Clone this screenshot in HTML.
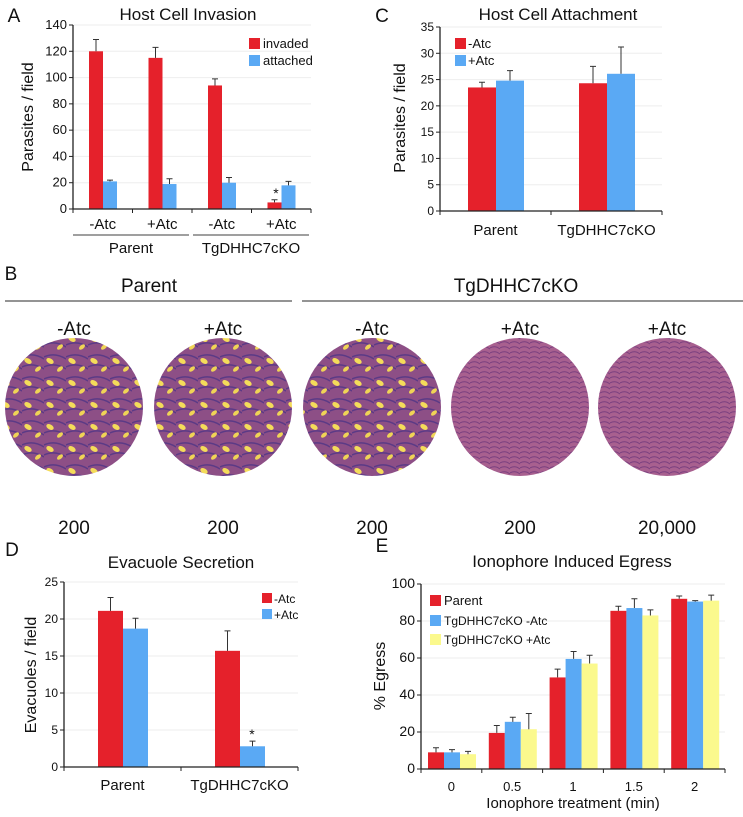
<!DOCTYPE html>
<html><head><meta charset="utf-8"><style>
body{margin:0;background:#fff;}
svg{display:block;font-family:"Liberation Sans",Arial,sans-serif;}
</style></head><body>
<svg id="fig" width="743" height="817" viewBox="0 0 743 817">
<defs>
<pattern id="cellsY" width="22" height="22" patternUnits="userSpaceOnUse">
<rect width="22" height="22" fill="#8d4f86"/>
<path d="M0 5 Q11 0 22 7 M0 15 Q11 10 22 17" stroke="#5b3a86" stroke-width="1.5" fill="none"/>
<ellipse cx="6" cy="9" rx="4" ry="2.5" fill="#f4dc5a" transform="rotate(30 6 9)"/>
<ellipse cx="16" cy="17" rx="3.5" ry="2" fill="#f0d456" transform="rotate(-40 16 17)"/>
</pattern>
<pattern id="cellsP" width="10" height="10" patternUnits="userSpaceOnUse">
<rect width="10" height="10" fill="#a8608f"/>
<path d="M0 3 Q5 0 10 4 M0 8 Q5 5 10 9" stroke="#7a3f7f" stroke-width="1" fill="none"/>
</pattern>
</defs>
<g id="layer"></g>
</svg>
<script>
// Panel A data
const aCats=['-Atc','+Atc','-Atc','+Atc'];
const aInvaded=[120,115,94,5];
const aInvadedErr=[129,123,99,7];
const aAttached=[21,19,20,18];
const aAttachedErr=[22,23,24,21];
const aTicks=[0,20,40,60,80,100,120,140];
// Panel C data
const cCats=['Parent','TgDHHC7cKO'];
const cMinus=[23.5,24.3];
const cMinusErr=[24.5,27.5];
const cPlus=[24.8,26.1];
const cPlusErr=[26.7,31.2];
const cTicks=[0,5,10,15,20,25,30,35];
// Panel D data
const dCats=['Parent','TgDHHC7cKO'];
const dMinus=[21.1,15.7];
const dMinusErr=[22.9,18.4];
const dPlus=[18.7,2.8];
const dPlusErr=[20.1,3.5];
const dTicks=[0,5,10,15,20,25];
// Panel E data
const eCats=['0','0.5','1','1.5','2'];
const eParent=[9,19.5,49.5,85.5,92];
const eParentErr=[11.5,23.5,54,88,93.5];
const eMinus=[9,25.5,59.5,87,90.5];
const eMinusErr=[10.5,28,63.5,92,91];
const ePlus=[8,21.5,57,83,91];
const ePlusErr=[9.5,30,61.5,86,94];
const eTicks=[0,20,40,60,80,100];

const NS='http://www.w3.org/2000/svg';
const L=document.getElementById('layer');
function el(t,a,txt){const e=document.createElementNS(NS,t);for(const k in a)e.setAttribute(k,a[k]);if(txt!==undefined)e.textContent=txt;L.appendChild(e);return e;}
function txt(x,y,s,size,anchor,name,rot){const a={x:x,y:y,'font-size':size,'text-anchor':anchor||'middle',fill:'#111'};if(rot)a.transform='rotate(-90 '+x+' '+y+')';const t=el('text',a,s);


return t;}
const RED='#e5212b',BLUE='#5aa9f4',YEL='#fbf98d';

function chart(o){
  const ys=v=>o.y0-(v/o.max)*(o.y0-o.yTop);
  o.ticks.forEach(t=>{
    if(t>0){const g=el('line',{x1:o.x0,x2:o.x1,y1:ys(t),y2:ys(t),stroke:'#eee','stroke-width':1});
    
    }
    const tk=el('line',{x1:o.x0-4,x2:o.x0,y1:ys(t),y2:ys(t),stroke:'#222'});
    
    
    txt(o.x0-6,ys(t)+4,String(t),o.tickSize,'end','y-tick-label');
  });
  const gw=(o.x1-o.x0)/o.cats.length;
  o.series.forEach((s,si)=>{
    o.cats.forEach((c,ci)=>{
      const x=o.x0+ci*gw+o.off+si*o.bw;
      const r=el('rect',{x:x,y:ys(s.v[ci]),width:o.bw,height:o.y0-ys(s.v[ci]),fill:s.c});
      
      
      const cx=x+o.bw/2,ye=ys(s.e[ci]);
      const e1=el('path',{d:'M'+cx+' '+ys(s.v[ci])+'V'+ye+'M'+(cx-3)+' '+ye+'H'+(cx+3),stroke:'#333','stroke-width':1,fill:'none'});
      
      
    });
  });
  const ax=el('path',{d:'M'+o.x0+' '+o.yTop+'V'+o.y0+'H'+o.x1,stroke:'#222','stroke-width':1.3,fill:'none'});
  
  
  for(let i=0;i<=o.cats.length;i++){const t=el('line',{x1:o.x0+i*gw,x2:o.x0+i*gw,y1:o.y0,y2:o.y0+4,stroke:'#222'});
    
    }
  o.cats.forEach((c,ci)=>txt(o.x0+(ci+0.5)*gw,o.catY,c,o.catSize,'middle','x-tick-label'));
  return ys;
}

// Panel A
txt(14,22,'A',19,'middle','panel-a-label');
txt(188,20,'Host Cell Invasion',17,'middle','panel-a-title');
const ysA=chart({x0:73,x1:311,y0:209,yTop:25,max:140,ticks:aTicks,cats:aCats,off:16,bw:14,tickSize:13,catSize:15,catY:229,
 series:[{n:'invaded',v:aInvaded,e:aInvadedErr,c:RED},{n:'attached',v:aAttached,e:aAttachedErr,c:BLUE}]});
txt(276,ysA(aInvadedErr[3])-2,'*',14,'middle','significance-star');
txt(33,117,'Parasites / field',16,'middle','y-axis-title',true);
el('rect',{x:249,y:38,width:11,height:11,fill:RED});
txt(263,48,'invaded',13,'start','legend-invaded');
el('rect',{x:249,y:55,width:11,height:11,fill:BLUE});
txt(263,65,'attached',13,'start','legend-attached');
el('line',{x1:73,x2:189,y1:235,y2:235,stroke:'#666','stroke-width':1.2});
el('line',{x1:193,x2:309,y1:235,y2:235,stroke:'#666','stroke-width':1.2});
txt(131,253,'Parent',15,'middle','group-label-parent');
txt(251,253,'TgDHHC7cKO',15,'middle','group-label-ko');

// Panel C
txt(382,22,'C',19,'middle','panel-c-label');
txt(558,20,'Host Cell Attachment',17,'middle','panel-c-title');
chart({x0:440,x1:662,y0:211,yTop:27,max:35,ticks:cTicks,cats:cCats,off:28,bw:28,tickSize:12,catSize:15,catY:235,
 series:[{n:'minus-atc',v:cMinus,e:cMinusErr,c:RED},{n:'plus-atc',v:cPlus,e:cPlusErr,c:BLUE}]});
txt(405,118,'Parasites / field',16,'middle','y-axis-title',true);
el('rect',{x:455,y:38,width:11,height:11,fill:RED});
txt(468,48,'-Atc',13,'start','legend-minus-atc');
el('rect',{x:455,y:55,width:11,height:11,fill:BLUE});
txt(468,65,'+Atc',13,'start','legend-plus-atc');

// Panel B
txt(11,280,'B',19,'middle','panel-b-label');
txt(149,292,'Parent',19,'middle','parent-header');
txt(516,292,'TgDHHC7cKO',19,'middle','ko-header');
el('line',{x1:5,x2:292,y1:301,y2:301,stroke:'#555','stroke-width':1.2});
el('line',{x1:302,x2:743,y1:301,y2:301,stroke:'#555','stroke-width':1.2});
const bLabels=['-Atc','+Atc','-Atc','+Atc','+Atc'];
const bCounts=['200','200','200','200','20,000'];
const bCx=[74,223,372,520,667];
bCx.forEach((cx,i)=>{
  txt(cx,335,bLabels[i],19,'middle','plaque-condition');
  const c=el('circle',{cx:cx,cy:407,r:69,fill:i<3?'url(#cellsY)':'url(#cellsP)'});
  
  
  txt(cx,534,bCounts[i],19,'middle','plaque-count');
});

// Panel D
txt(12,556,'D',19,'middle','panel-d-label');
txt(181,568,'Evacuole Secretion',17,'middle','panel-d-title');
const ysD=chart({x0:64,x1:298,y0:767,yTop:582,max:25,ticks:dTicks,cats:dCats,off:34,bw:25,tickSize:12,catSize:15,catY:790,
 series:[{n:'minus-atc',v:dMinus,e:dMinusErr,c:RED},{n:'plus-atc',v:dPlus,e:dPlusErr,c:BLUE}]});
txt(252,ysD(dPlusErr[1])-2,'*',14,'middle','significance-star');
txt(36,675,'Evacuoles / field',16,'middle','y-axis-title',true);
el('rect',{x:262,y:593,width:10,height:10,fill:RED});
txt(274,603,'-Atc',12,'start','legend-minus-atc');
el('rect',{x:262,y:609,width:10,height:10,fill:BLUE});
txt(274,619,'+Atc',12,'start','legend-plus-atc');

// Panel E
txt(382,552,'E',19,'middle','panel-e-label');
txt(572,567,'Ionophore Induced Egress',17,'middle','panel-e-title');
chart({x0:421,x1:725,y0:769,yTop:584,max:100,ticks:eTicks,cats:eCats,off:7,bw:16,tickSize:14,catSize:13,catY:791,
 series:[{n:'parent',v:eParent,e:eParentErr,c:RED},{n:'ko-minus-atc',v:eMinus,e:eMinusErr,c:BLUE},{n:'ko-plus-atc',v:ePlus,e:ePlusErr,c:YEL}]});
txt(573,808,'Ionophore treatment (min)',15,'middle','x-axis-title');
txt(385,676,'% Egress',16,'middle','y-axis-title',true);
el('rect',{x:430,y:595,width:11,height:11,fill:RED});
txt(444,605,'Parent',13,'start','legend-parent');
el('rect',{x:430,y:615,width:11,height:11,fill:BLUE});
txt(444,625,'TgDHHC7cKO  -Atc',12,'start','legend-ko-minus');
el('rect',{x:430,y:634,width:11,height:11,fill:YEL});
txt(444,644,'TgDHHC7cKO +Atc',12,'start','legend-ko-plus');
</script>
</body></html>
